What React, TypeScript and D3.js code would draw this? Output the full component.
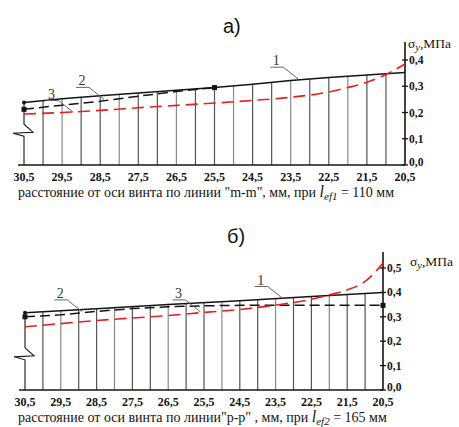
import React from 'react';
import * as d3 from 'd3';

type Pt = [number, number];

// x positions (distance from screw axis, mm)
const xLabels = [30.5, 29.5, 28.5, 27.5, 26.5, 25.5, 24.5, 23.5, 22.5, 21.5, 20.5];
const gridX = [30, 29.5, 29, 28.5, 28, 27.5, 27, 26.5, 26, 25.5, 25, 24.5, 24, 23.5, 23, 22.5, 22, 21.5, 21];

// chart a) line "m-m"
const aLine1: Pt[] = [[30.5, 0.238], [29.5, 0.252], [28.5, 0.264], [27.5, 0.274], [26.5, 0.285], [25.5, 0.295], [24.5, 0.308], [23.5, 0.322], [22.5, 0.333], [21.5, 0.343], [20.5, 0.352]];
const aLine2: Pt[] = [[30.5, 0.212], [29.5, 0.228], [28.5, 0.243], [27.5, 0.262], [26.5, 0.28], [25.5, 0.295]];
const aLine3: Pt[] = [[30.5, 0.194], [29.5, 0.2], [28.5, 0.208], [27.5, 0.218], [26.5, 0.227], [25.5, 0.236], [24.5, 0.246], [23.5, 0.258], [22.5, 0.278], [22, 0.295], [21.5, 0.315], [21, 0.345], [20.5, 0.385]];
const aMarks: Pt[] = [[30.5, 0.212], [25.5, 0.295]];
const aNotes = [{ n: '1', x: 23.3, y: 0.327 }, { n: '2', x: 28.4, y: 0.25 }, { n: '3', x: 29.2, y: 0.2 }];

// chart б) line "p-p"
const bLine1: Pt[] = [[30.5, 0.317], [28.5, 0.333], [26.5, 0.35], [24.5, 0.366], [22.5, 0.383], [20.5, 0.4]];
const bLine2: Pt[] = [[30.5, 0.3], [29.5, 0.308], [28.5, 0.322], [27.5, 0.334], [26.5, 0.341], [25.5, 0.345], [24.5, 0.347], [22.5, 0.347], [20.5, 0.347]];
const bLine3: Pt[] = [[30.5, 0.259], [29.5, 0.272], [28.5, 0.285], [27.5, 0.295], [26.5, 0.305], [25.5, 0.318], [24.5, 0.33], [23.5, 0.348], [22.5, 0.372], [22, 0.39], [21.5, 0.41], [21, 0.445], [20.5, 0.52]];
const bMarks: Pt[] = [[30.5, 0.3], [20.5, 0.347]];
const bNotes = [{ n: '1', x: 23.3, y: 0.375 }, { n: '2', x: 28.9, y: 0.32 }, { n: '3', x: 25.6, y: 0.32 }];

const RED = '#ee1c1c';
const INK = '#141414';
const SERIF = "'Liberation Serif', 'DejaVu Serif', serif";
const SANS = "'Liberation Sans', Arial, sans-serif";

const fmt = (v: number) => v.toFixed(1).replace('.', ',');

function Chart({ x0, x1, base, top, axisTop, yMax, lines, marks, notes, title, titleX, titleY, caption, sub, tail, breakV, unitX, unitY }: any) {
    const x = d3.scaleLinear().domain([30.5, 20.5]).range([x0, x1]);
    const y = d3.scaleLinear().domain([0, yMax]).range([base, top]);
    const [l1, l2, l3] = lines as Pt[][];
    const line = d3.line<Pt>().x(d => x(d[0])).y(d => y(d[1]));
    const curve = d3.line<Pt>().x(d => x(d[0])).y(d => y(d[1])).curve(d3.curveMonotoneX);
    const topAt = d3.scaleLinear().domain(l1.map(d => d[0]).reverse()).range(l1.map(d => d[1]).reverse());
    const yb = y(breakV);
    const xl = x(30.5);

    return (
        <g>
            <text x={titleX} y={titleY} fontFamily={SANS} fontSize={20} fill={INK}>{title}</text>

            {/* vertical grid */}
            {gridX.map((g, i) => (
                <line key={g} x1={x(g)} x2={x(g)} y1={base} y2={y(topAt(g))}
                    stroke={i % 3 === 1 ? '#8a8a8a' : '#555'} strokeWidth={1.2} />
            ))}

            {/* left edge with break */}
            <path d={`M${xl},${y(l1[0][1])} L${xl},${yb - 8} L${xl + 9},${yb} L${xl - 11},${yb + 1} L${xl},${yb + 4} L${xl},${base}`}
                fill="none" stroke={INK} strokeWidth={1.1} />

            {/* baseline */}
            <line x1={xl - 6} x2={x1} y1={base} y2={base} stroke={INK} strokeWidth={1.6} />

            {/* right axis */}
            <line x1={x1} x2={x1} y1={base} y2={axisTop} stroke={INK} strokeWidth={1.6} />
            {(y.ticks(yMax * 10) as number[]).map(t => (
                <g key={t}>
                    <line x1={x1 - 3} x2={x1 + 3} y1={y(t)} y2={y(t)} stroke={INK} strokeWidth={1.3} />
                    <text x={x1 + 4} y={y(t) + (t === 0 ? 1 : 4)} fontFamily={SERIF} fontWeight="bold" fontSize={11.5} fill={INK}>{fmt(t)}</text>
                </g>
            ))}
            <text x={unitX} y={unitY} fontFamily={SERIF} fontSize={13.5} fill={INK}>
                σ<tspan fontStyle="italic" fontSize={10.5} dy={3}>y</tspan><tspan dy={-3}>,МПа</tspan>
            </text>

            {/* series */}
            <path d={line(l1) || ''} fill="none" stroke={INK} strokeWidth={1.5} />
            <path d={line(l2) || ''} fill="none" stroke={INK} strokeWidth={1.5} strokeDasharray="10 5" />
            <path d={curve(l3) || ''} fill="none" stroke={RED} strokeWidth={1.6} strokeDasharray="12 6" />
            {(marks as Pt[]).map((m, i) => (
                <rect key={i} x={x(m[0]) - 2.5} y={y(m[1]) - 2.5} width={5} height={5} fill={INK} />
            ))}
            <circle cx={xl} cy={y(l1[0][1])} r={2} fill={INK} />

            {/* leader labels */}
            {notes.map((n: any) => {
                const px = x(n.x), py = y(n.y);
                const ux = px - 15, uy = py - 12;
                return (
                    <g key={n.n}>
                        <path d={`M${px},${py} L${ux},${uy} L${ux - 13},${uy}`} fill="none" stroke="#666" strokeWidth={1} />
                        <text x={ux - 7} y={uy - 2} textAnchor="middle" fontFamily={SERIF} fontSize={14} fill="#333">{n.n}</text>
                    </g>
                );
            })}

            {/* x labels */}
            {xLabels.map(v => (
                <text key={v} x={x(v)} y={base + 16} textAnchor="middle" fontFamily={SERIF} fontWeight="bold" fontSize={12} fill={INK}>{fmt(v)}</text>
            ))}

            {/* caption */}
            <text x={18} y={base + 32} fontFamily={SERIF} fontSize={14} fill={INK}>
                {caption}<tspan fontStyle="italic" fontSize={16}>l</tspan>
                <tspan fontStyle="italic" fontSize={11} dy={3}>{sub}</tspan>
                <tspan dy={-3}>{tail}</tspan>
            </text>
        </g>
    );
}

export default function App() {
    return (
        <div style={{ position: 'absolute', left: 0, top: 0, background: '#fff' }}>
            <svg width={459} height={427} style={{ display: 'block' }}>
                <Chart x0={24} x1={405} base={165} top={60} axisTop={42} yMax={0.4}
                    lines={[aLine1, aLine2, aLine3]} marks={aMarks} notes={aNotes}
                    title="а)" titleX={223} titleY={33} breakV={0.125} unitX={408} unitY={48}
                    caption={'расстояние от оси винта по линии "m-m", мм, при '} sub="ef1" tail=" = 110 мм" />
                <Chart x0={25} x1={383} base={390} top={268} axisTop={252} yMax={0.5}
                    lines={[bLine1, bLine2, bLine3]} marks={bMarks} notes={bNotes}
                    title="б)" titleX={227} titleY={243} breakV={0.14} unitX={410} unitY={266}
                    caption={'расстояние от оси винта по линии"р-р"   , мм, при '} sub="ef2" tail=" = 165 мм" />
            </svg>
        </div>
    );
}
